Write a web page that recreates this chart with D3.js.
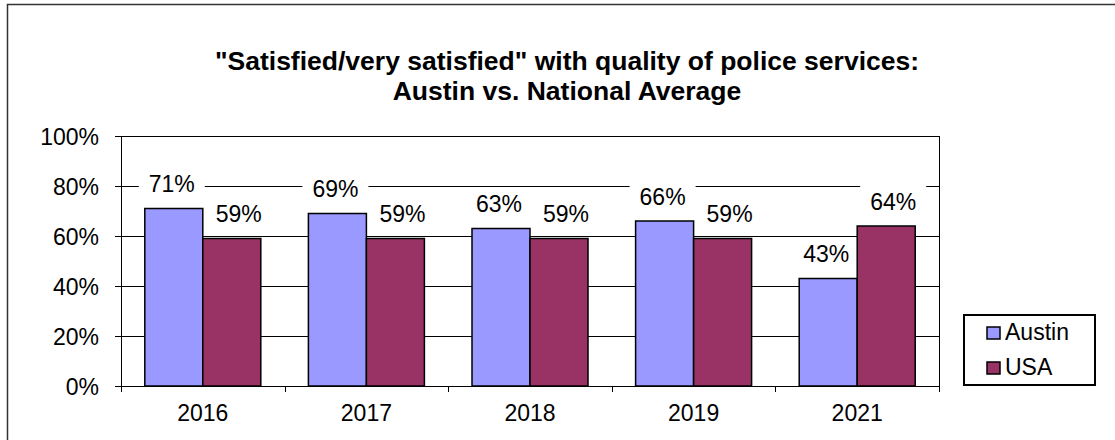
<!DOCTYPE html>
<html>
<head>
<meta charset="utf-8">
<script src="https://cdn.jsdelivr.net/npm/d3@7"></script>
<style>
  body { margin:0; background:#fff; }
  text { font-family: Arial, "Liberation Sans", sans-serif; fill:#000; }
</style>
</head>
<body>
<div id="canvas"></div>
<script>
// data
var years = ['2016','2017','2018','2019','2021'];
var austin = [71, 69, 63, 66, 43];
var usa = [59, 59, 59, 59, 64];
var seriesNames = ['Austin','USA'];
var seriesColors = ['#9999ff','#993366'];
var yTicks = [0, 20, 40, 60, 80, 100];
var titleLines = ['"Satisfied/very satisfied" with quality of police services:', 'Austin vs. National Average'];

var W = 1115, H = 440;
var m = {t:136, l:121, r:W-939, b:H-386};
var w = W - m.l - m.r, h = H - m.t - m.b;

var svg = d3.select('#canvas').append('svg')
  .attr('width', W).attr('height', H);

// outer frame (right and bottom run off the picture)
svg.append('rect')
  .attr('x', 7.5).attr('y', 4.5)
  .attr('width', W + 20).attr('height', H + 20)
  .attr('fill', 'none').attr('stroke', '#333').attr('stroke-width', 1.5);

// title
svg.selectAll('.title').data(titleLines).enter().append('text')
  .attr('class', 'title')
  .attr('x', 567).attr('y', function(d, i){ return 70 + i * 30; })
  .attr('text-anchor', 'middle')
  .style('font-size', '26.5px').style('font-weight', 'bold')
  .text(function(d){ return d; });

var plot = svg.append('g').attr('transform', 'translate(' + m.l + ',' + m.t + ')');

var scaleY = d3.scaleLinear().domain([0, 100]).range([h, 0]);
var scaleX = d3.scaleBand().domain(years).range([0, w]);
var inner = d3.scaleBand().domain(seriesNames).range([0, 116])
  .paddingInner(0);
var groupOff = (scaleX.bandwidth() - 116) / 2;

// gridlines
plot.selectAll('.grid').data(yTicks.slice(1)).enter().append('line')
  .attr('x1', 0).attr('x2', w)
  .attr('y1', function(d){ return Math.round(scaleY(d)) + 0.5; })
  .attr('y2', function(d){ return Math.round(scaleY(d)) + 0.5; })
  .attr('stroke', '#000').attr('stroke-width', 1);

// right border of plot
plot.append('line').attr('x1', w + 0.5).attr('x2', w + 0.5)
  .attr('y1', 0).attr('y2', h + 6).attr('stroke', '#000');

// axes
var axisY = d3.axisLeft(scaleY).tickValues(yTicks)
  .tickFormat(function(d){ return d + '%'; }).tickSize(6).tickPadding(16);
var gy = plot.append('g').attr('class', 'axis').call(axisY);
gy.selectAll('text').style('font-size', '23px').attr('dy', '0.35em');

var axisX = d3.axisBottom(scaleX).tickSize(0).tickPadding(0).tickSizeOuter(0);
var gx = plot.append('g').attr('transform', 'translate(0,' + h + ')').call(axisX);
gx.selectAll('text').style('font-size', '23px').attr('y', 35).attr('dy', 0);

// category tick marks
plot.selectAll('.xtick').data(d3.range(years.length + 1)).enter().append('line')
  .attr('x1', function(i){ return Math.round(i * scaleX.step()) + 0.5; })
  .attr('x2', function(i){ return Math.round(i * scaleX.step()) + 0.5; })
  .attr('y1', h).attr('y2', h + 6).attr('stroke', '#000');

d3.selectAll('.domain, .tick line').attr('stroke', '#000');

var rows = years.map(function(y, i){
  return [{year:y, s:'Austin', v:austin[i], c:seriesColors[0], dx:-2},
          {year:y, s:'USA', v:usa[i], c:seriesColors[1], dx:7}];
});
var flat = [].concat.apply([], rows);
function labX(d){ return scaleX(d.year) + groupOff + inner(d.s) + inner.bandwidth() / 2 + d.dx; }
function labY(d){ return scaleY(d.v) - 16.5; }

// white backing behind value labels (hides gridlines, sits under the bars)
plot.selectAll('rect.lbg').data(flat).enter().append('rect').attr('class', 'lbg')
  .attr('x', function(d){ return labX(d) - 33; })
  .attr('y', function(d){ return labY(d) - 25; })
  .attr('width', 66).attr('height', 30)
  .attr('fill', '#fff');

// bars
plot.selectAll('rect.bar').data(flat).enter().append('rect')
  .attr('class', 'bar')
  .attr('x', function(d){ return scaleX(d.year) + groupOff + inner(d.s); })
  .attr('y', function(d){ return scaleY(d.v); })
  .attr('width', inner.bandwidth())
  .attr('height', function(d){ return h - scaleY(d.v); })
  .attr('fill', function(d){ return d.c; })
  .attr('stroke', '#000').attr('stroke-width', 1.5);

// value labels
plot.selectAll('text.lab').data(flat).enter().append('text').attr('class', 'lab')
  .attr('x', labX).attr('y', labY)
  .attr('text-anchor', 'middle')
  .style('font-size', '23px')
  .text(function(d){ return d.v + '%'; });

// y axis line on top
plot.append('line').attr('x1', 0.5).attr('x2', 0.5).attr('y1', 0).attr('y2', h + 6).attr('stroke', '#000');
plot.append('line').attr('x1', -6).attr('x2', w).attr('y1', h + 0.5).attr('y2', h + 0.5).attr('stroke', '#000');

// legend
var lg = svg.append('g').attr('transform', 'translate(964,315)');
lg.append('rect').attr('width', 131).attr('height', 70)
  .attr('fill', '#fff').attr('stroke', '#000').attr('stroke-width', 2);
var li = lg.selectAll('g.li').data(seriesNames).enter().append('g')
  .attr('transform', function(d, i){ return 'translate(23,' + (12 + i * 35) + ')'; });
li.append('rect').attr('width', 13).attr('height', 12)
  .attr('fill', function(d, i){ return seriesColors[i]; })
  .attr('stroke', '#000').attr('stroke-width', 1.5);
li.append('text').attr('x', 18).attr('y', 13).style('font-size', '23px')
  .text(function(d){ return d; });
</script>
</body>
</html>
